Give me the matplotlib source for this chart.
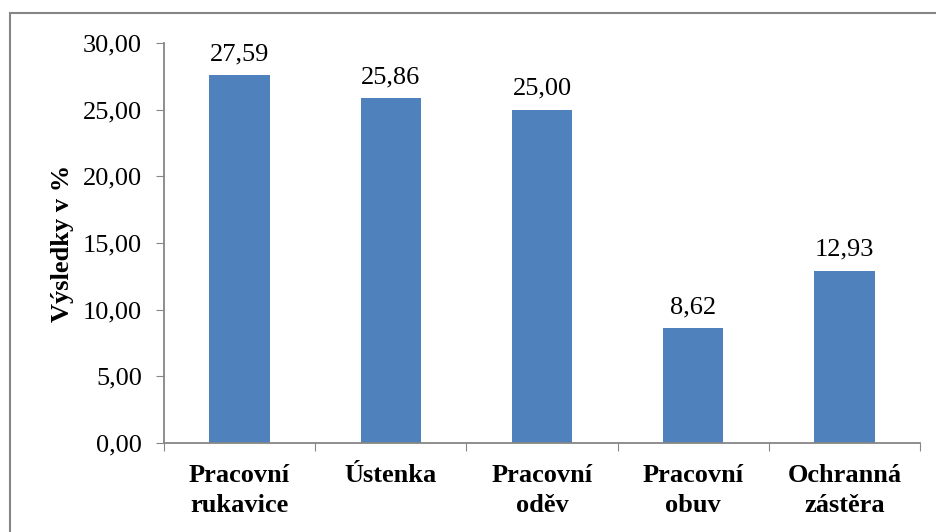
import matplotlib
matplotlib.use("Agg")
import matplotlib.pyplot as plt
from matplotlib.patches import Rectangle
from matplotlib.ticker import FixedLocator, NullFormatter

categories = ["Pracovní\nrukavice", "Ústenka", "Pracovní\noděv", "Pracovní\nobuv", "Ochranná\nzástěra"]
values = [27.59, 25.86, 25.00, 8.62, 12.93]
y_ticks = [0, 5, 10, 15, 20, 25, 30]

plt.rcParams["font.family"] = ["Liberation Serif", "DejaVu Serif"]
FS = 19

W, H, DPI = 936, 532, 100
fig = plt.figure(figsize=(W / DPI, H / DPI), dpi=DPI)

# outer chart frame
fig.patches.append(Rectangle((10 / W, 0 - 0.01), (W + 10) / W, (H - 13) / H + 0.01,
                             transform=fig.transFigure, fill=False,
                             edgecolor="#868686", linewidth=1.5))

left, right, top, bottom = 164, 920, 43, 443
ax = fig.add_axes([left / W, 1 - bottom / H, (right - left) / W, (bottom - top) / H])

x = range(len(categories))
bars = ax.bar(x, values, width=0.4, color="#4F81BD")

for i, v in enumerate(values):
    ax.annotate(f"{v:.2f}".replace(".", ","), (i, v), xytext=(0, 7),
                textcoords="offset points", ha="center", va="bottom", fontsize=FS)

ax.set_xlim(-0.5, len(categories) - 0.5)
ax.set_ylim(0, 30)
ax.set_yticks(y_ticks)
ax.set_yticklabels([f"{t:.2f}".replace(".", ",") for t in y_ticks], fontsize=FS)

# category separators as x ticks, labels at centres
ax.xaxis.set_major_locator(FixedLocator([i - 0.5 for i in range(len(categories) + 1)]))
ax.xaxis.set_major_formatter(NullFormatter())
ax.xaxis.set_minor_locator(FixedLocator(list(x)))
ax.set_xticklabels(categories, minor=True, fontsize=FS, fontweight="bold", linespacing=1.4)
ax.tick_params(axis="x", which="minor", length=0, pad=15)
ax.tick_params(axis="x", which="major", length=6, color="#868686", direction="out")
ax.tick_params(axis="y", length=6, color="#868686", direction="out", pad=10)

for s in ["top", "right"]:
    ax.spines[s].set_visible(False)
for s in ["left", "bottom"]:
    ax.spines[s].set_color("#868686")
    ax.spines[s].set_linewidth(1.3)

ax.set_ylabel("Výsledky v %", fontsize=FS, fontweight="bold", labelpad=6)

fig.savefig("out.png", dpi=DPI)
